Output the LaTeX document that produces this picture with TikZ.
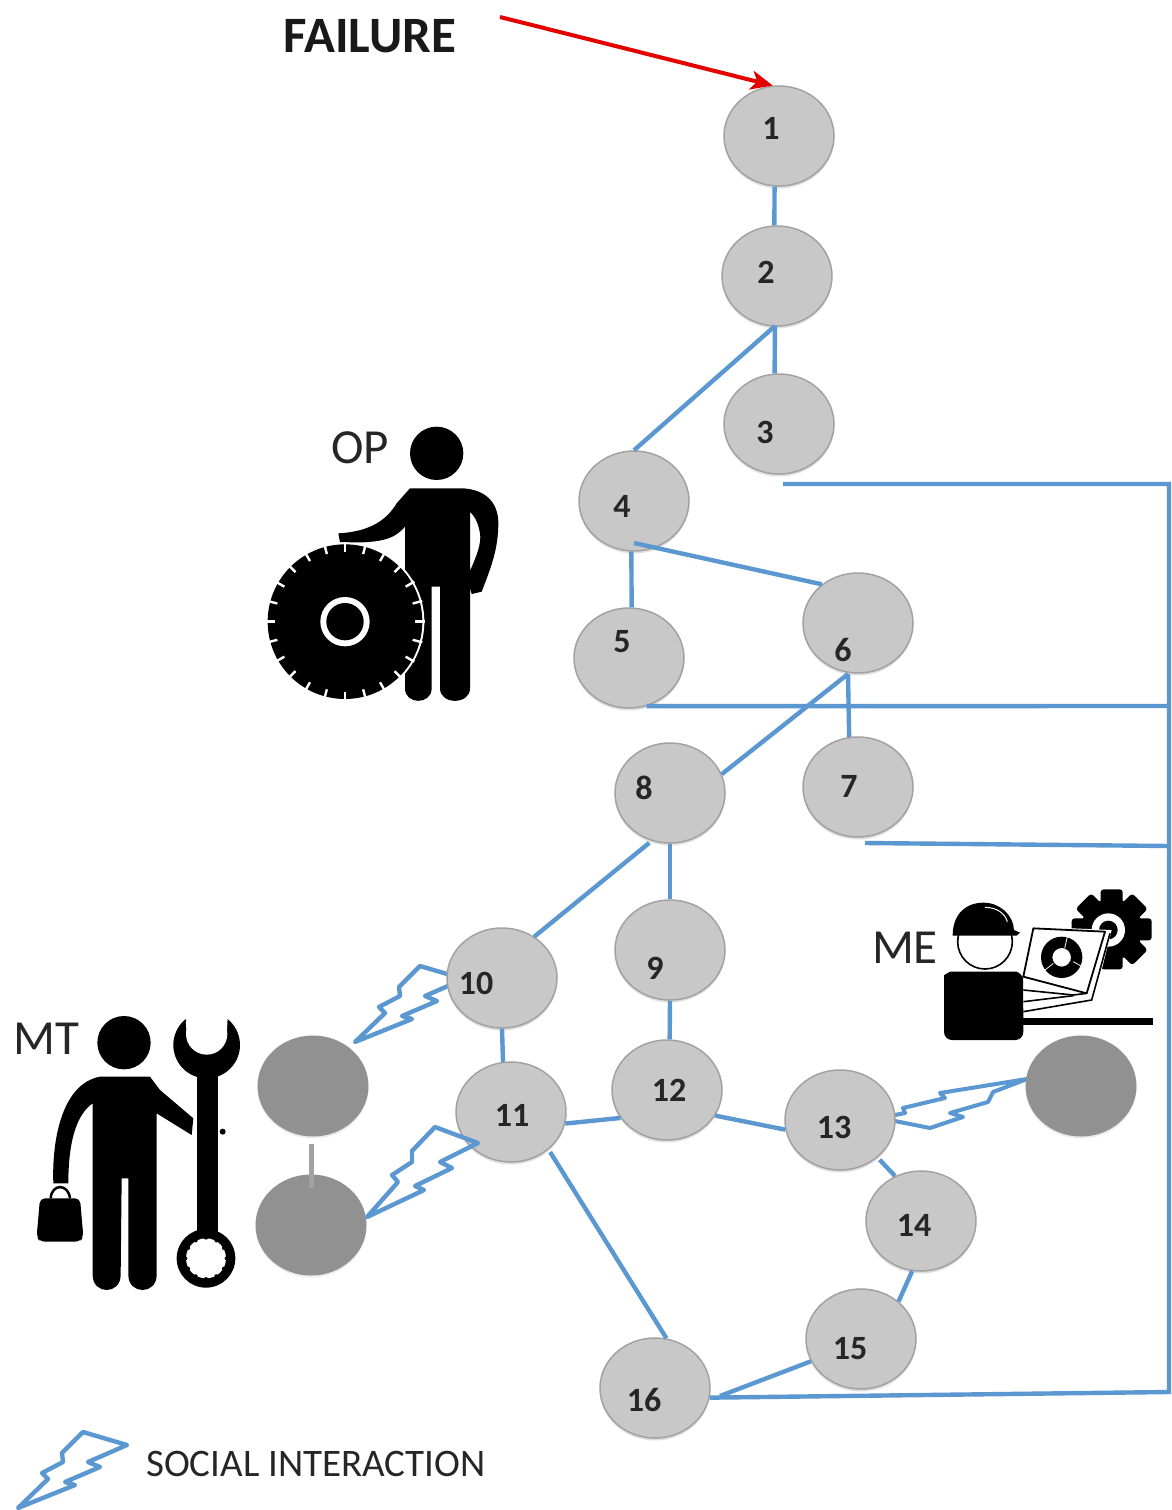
\documentclass[tikz,border=0pt]{standalone}
\usepackage{fontspec}
\setmainfont{Carlito}
\usetikzlibrary{shapes.geometric,shadows,arrows.meta,calc}
\definecolor{nodefill}{HTML}{C8C8C8}
\definecolor{nodeedge}{HTML}{A2A2A2}
\definecolor{darkfill}{HTML}{919191}
\definecolor{linkblue}{HTML}{5B97D0}
\tikzset{
  state/.style={ellipse,minimum width=110pt,minimum height=100pt,inner sep=0pt,fill=nodefill,draw=nodeedge,line width=1.5pt,
     drop shadow={shadow xshift=0pt,shadow yshift=-2.5pt,opacity=.25}},
  human/.style={ellipse,minimum width=111pt,minimum height=101pt,inner sep=0pt,fill=darkfill,
     drop shadow={shadow xshift=0pt,shadow yshift=-2pt,opacity=.15}},
  num/.style={inner sep=0pt,font=\fontsize{34}{36}\selectfont\bfseries,text=black!85},
  link/.style={draw=linkblue,line width=4.4pt},
  bolt/.style={draw=linkblue,line width=4.4pt,line join=round},
  lab/.style={inner sep=0pt,font=\fontsize{49}{52}\selectfont,text=black!85},
}
\newcommand{\boltpath}{(18,1508) -- (48,1479) -- (42,1473) -- (63,1462) -- (62,1453) -- (83,1432) -- (127,1445) -- (88,1462) -- (100,1467) -- (65,1482) -- (75,1485) -- cycle}
\begin{document}
\begin{tikzpicture}[x=1pt,y=-1pt]
\useasboundingbox (0,0) rectangle (1171,1510);
% bolts under the nodes
\draw[bolt,shift={(337,-466)}] \boltpath;
\draw[bolt,line width=4pt] (1027,1079) -- (940,1093) -- (945,1098) -- (903,1108) -- (905,1113) -- (880,1118) -- (930,1128) -- (963,1117) -- (950,1113) -- (988,1102) -- (993,1092) -- cycle;
% nodes
\node[state] (n1) at (779,136) {};
\node[state] (n2) at (777,276) {};
\node[state] (n3) at (779,424) {};
\node[state] (n4) at (634,501) {};
\node[state] (n5) at (629,658) {};
\node[state] (n6) at (858,623) {};
\node[state] (n7) at (858,787) {};
\node[state] (n8) at (670,793) {};
\node[state] (n9) at (670,950) {};
\node[state] (n10) at (502,978) {};
\node[state] (n11) at (511,1112) {};
\node[state] (n12) at (667,1090) {};
\node[state] (n13) at (840,1120) {};
\node[state] (n14) at (921,1221) {};
\node[state] (n15) at (861,1339) {};
\node[state] (n16) at (655,1388) {};
\node[human] (ma) at (313,1086) {};
\node[human] (mb) at (311,1225) {};
\node[human] (me) at (1081,1086) {};
% numbers
\node[num] (t1) at (771,128) {1};
\node[num] (t2) at (766,272) {2};
\node[num] (t3) at (765,432) {3};
\node[num] (t4) at (622,506) {4};
\node[num] (t5) at (622,642) {5};
\node[num] (t6) at (843,650) {6};
\node[num] (t7) at (849,786) {7};
\node[num] (t8) at (644,788) {8};
\node[num] (t9) at (655,968) {9};
\node[num] (t10) at (476,983) {10};
\node[num] (t11) at (512,1115) {11};
\node[num] (t12) at (669,1090) {12};
\node[num] (t13) at (834,1127) {13};
\node[num] (t14) at (914,1225) {14};
\node[num] (t15) at (850,1349) {15};
\node[num] (t16) at (644,1400) {16};
% connectors
\coordinate (b3) at (783,484);
\coordinate (r3) at (1169,484);
\coordinate (r5) at (1169,706);
\coordinate (b7) at (865,843);
\coordinate (r7) at (1169,846);
\coordinate (r16) at (1169,1392);
\coordinate (f16) at (720,1396);
\coordinate (j4) at (634,543);
\coordinate (j2) at (775,326);
\coordinate (j6) at (848,674);
\draw[link] (n1.265) -- (n2.93);
\draw[link] (j2) -- (n3.95);
\draw[link] (j2) -- (n4.north);
\draw[link] (n4.267) -- (n5.87);
\draw[link] (j4) -- (n6.133);
\draw[link] (j6) -- (n7.100);
\draw[link] (j6) -- (n8.20);
\draw[link] (n8.south) -- (n9.north);
\draw[link,shorten <=3pt] (n8.249) -- (n10.52);
\draw[link] (n9.south) -- (n12.87);
\draw[link] (n10.south) -- (n11.99);
\draw[link] (n11.-12) -- (n12.211);
\draw[link] (n12.-28) -- (n13.190);
\draw[link,shorten <=3pt] (n13.-45) -- (n14.120);
\draw[link] (n14.260) -- (n15.45);
\draw[link] (n15.204) -- (f16);
\draw[link,shorten <=3pt] (n11.-45) -- (n16.77);
\draw[link] (b3) -- (r3) -- (r16) -- (n16.-10);
\draw[link] (n5.-70) -- (r5);
\draw[link] (b7) -- (r7);
\draw[draw=nodeedge,line width=5pt,shorten <=7pt,shorten >=-14pt] (ma.south -| mb.north) -- (mb.north);
% failure
\node[inner sep=0pt,font=\fontsize{51}{54}\selectfont\bfseries,text=black!90] (fail) at (370,36) {FAILURE};
\coordinate (failstart) at (500,17);
\draw[draw=red!90!black,line width=4pt,-{Stealth[length=22pt,width=19pt,inset=6pt]}] (failstart) -- (n1.97);
% bolts over the nodes
\draw[bolt] (367,1217) -- (398,1182) -- (392,1175) -- (412,1162) -- (412,1151) -- (435,1127) -- (478,1143) -- (440,1162) -- (452,1168) -- (415,1186) -- (424,1190) -- cycle;
\draw[bolt] \boltpath;
\node[inner sep=0pt,anchor=west,font=\fontsize{39}{42}\selectfont,text=black!85] (social) at (146,1464) {SOCIAL INTERACTION};
% labels
\node[lab] (op) at (360,448) {OP};
\node[lab] (mt) at (46,1039) {MT};
\node[lab] (mel) at (905,948) {ME};
% operator with tyre
\begin{scope}[shift={(250,410)},scale=1/3]
\fill (560,130) circle[radius=80];
\fill (480,235) -- (640,235) .. controls (710,240) and (745,280) .. (745,340) .. controls (745,420) and (720,480) .. (695,545) -- (665,552) -- (652,500) .. controls (680,440) and (695,400) .. (690,370) .. controls (685,340) and (675,320) .. (660,305) -- (660,835) .. controls (660,885) and (570,885) .. (570,835) -- (570,530) -- (545,530) -- (545,835) .. controls (545,885) and (465,885) .. (465,835) -- (465,350) .. controls (430,390) and (390,400) .. (270,397) -- (265,370) .. controls (360,365) and (410,330) .. (440,280) -- cycle;
\fill[white] (285,635) circle[radius=238];
\fill (285,635) circle[radius=232];
\foreach \a in {0,15,...,345} \draw[white,line width=2.4pt] ($(285,635)+(\a:210)$) -- ($(285,635)+(\a:240)$);
\fill[white] (285,635) circle[radius=74];
\fill (285,635) circle[radius=56];
\end{scope}
% maintainer with wrench
\begin{scope}[shift={(0,950)},scale=1/3]
\fill (372,278) circle[radius=80];
\fill (300,380) -- (450,380) -- (480,420) -- (580,505) -- (575,555) -- (470,490) -- (470,975) .. controls (470,1035) and (385,1035) .. (385,975) -- (385,685) -- (365,685) -- (362,975) .. controls (362,1035) and (278,1035) .. (278,975) -- (278,460) .. controls (235,490) and (205,560) .. (205,700) -- (160,700) .. controls (155,560) and (190,400) .. (300,380) -- cycle;
\fill[rounded corners=5pt] (120,745) -- (240,745) -- (250,860) -- (240,875) -- (120,875) -- (110,860) -- cycle;
\draw[line width=2.5pt] (152,745) .. controls (155,700) and (205,700) .. (210,745);
% wrench
\fill (590,360) rectangle (655,860);
\fill (620,285) circle[radius=100];
\fill[white] (620,252) circle[radius=62];
\fill[white] (555,170) -- (685,170) -- (680,255) -- (560,255) -- cycle;
\fill (618,925) circle[radius=88];
\fill[white] (618,925) circle[radius=60];
\fill (668,545) circle[radius=9];
\foreach \a in {0,30,...,330} \fill ($(618,925)+(\a:62)$) circle[radius=6];
\end{scope}
% engineer with laptop
\begin{scope}[shift={(860,880)},scale=1/3]
% gear
\fill (755,148) circle[radius=92];
\foreach \a in {0,45,...,315} \fill[rotate around={\a:(755,148)},rounded corners=3pt] (722,28) rectangle (788,90);
\fill[white] (745,150) circle[radius=50];
\fill (745,150) circle[radius=28];
% body
\fill[rounded corners=8pt] (252,480) -- (252,310) .. controls (252,285) and (270,275) .. (295,275) -- (445,275) .. controls (475,275) and (490,290) .. (490,320) -- (490,480) -- cycle;
\fill (490,415) rectangle (880,436);
% head
\draw[fill=white,line width=1.6pt] (375,185) circle[radius=82];
\fill (278,167) .. controls (278,100) and (320,68) .. (370,68) .. controls (420,68) and (460,105) .. (462,150) -- (480,158) -- (470,167) -- cycle;
\draw[white,line width=1pt] (375,82) .. controls (410,82) and (435,100) .. (442,125);
% laptop
\fill[white] (520,140) -- (755,150) -- (700,370) -- (490,385) -- (490,290) -- cycle;
\draw[line width=1.8pt,line join=round] (520,145) -- (735,155) -- (680,340) -- (490,290) -- cycle;
\draw[line width=1.6pt] (750,160) -- (695,360) -- (490,395);
\draw[line width=1.6pt] (490,330) -- (640,345) -- (680,340);
\draw[line width=1.6pt] (490,365) -- (640,347);
\fill[even odd rule] (605,232) circle[radius=62] (605,232) circle[radius=28];
\draw[white,line width=.8pt] (622,170) -- (614,205) (640,245) -- (670,262) (580,250) -- (555,270);
\end{scope}
\end{tikzpicture}
\end{document}
